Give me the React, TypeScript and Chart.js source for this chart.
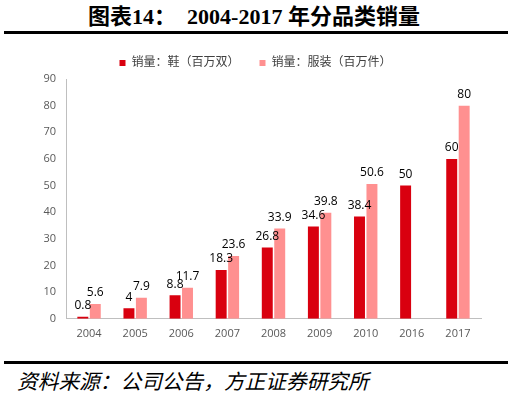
import React, { useEffect, useRef } from "react";
import { Chart, registerables } from "chart.js";

Chart.register(...registerables);

const categories = ["2004", "2005", "2006", "2007", "2008", "2009", "2010", "2016", "2017"];
const shoes = [0.8, 4, 8.8, 18.3, 26.8, 34.6, 38.4, 50, 60];
const clothes: (number | null)[] = [5.6, 7.9, 11.7, 23.6, 33.9, 39.8, 50.6, null, 80];
const seriesNames = ["销量：鞋（百万双）", "销量：服装（百万件）"];
const yTicks = [0, 10, 20, 30, 40, 50, 60, 70, 80, 90];

const FONT = "'Open Sans', 'Noto Sans CJK SC', sans-serif";

const labelPlugin = {
  id: "barLabels",
  afterDatasetsDraw(chart: any) {
    const ctx = chart.ctx;
    ctx.save();
    ctx.font = `12px ${FONT}`;
    ctx.fillStyle = "#000000";
    ctx.textAlign = "center";
    ctx.textBaseline = "bottom";
    chart.data.datasets.forEach((ds: any, i: number) => {
      const meta = chart.getDatasetMeta(i);
      meta.data.forEach((el: any, j: number) => {
        const v = ds.data[j];
        if (v === null || v === undefined) return;
        ctx.fillText(String(v), el.x, el.y - 5);
      });
    });
    ctx.restore();
  },
};

function BarChart() {
  const ref = useRef<HTMLCanvasElement>(null);
  useEffect(() => {
    if (!ref.current) return;
    const chart = new Chart(ref.current, {
      type: "bar",
      data: {
        labels: categories,
        datasets: [
          {
            label: seriesNames[0],
            data: shoes,
            backgroundColor: "#D9000F",
            categoryPercentage: 0.54,
            barPercentage: 0.88,
          },
          {
            label: seriesNames[1],
            data: clothes,
            backgroundColor: "#FF9090",
            categoryPercentage: 0.54,
            barPercentage: 0.88,
          },
        ],
      },
      options: {
        animation: false,
        responsive: false,
        maintainAspectRatio: false,
        layout: { padding: { left: 30, right: 27, top: 9, bottom: 0 } },
        plugins: {
          legend: {
            position: "top",
            labels: {
              boxWidth: 6,
              boxHeight: 6,
              color: "#404040",
              font: { size: 12, family: FONT },
              padding: 20,
            },
          },
          tooltip: { enabled: false },
        },
        scales: {
          x: {
            grid: { display: false, drawTicks: false },
            border: { color: "#BFBFBF", width: 1 },
            ticks: { color: "#595959", font: { size: 11, family: FONT }, padding: 8 },
          },
          y: {
            min: 0,
            max: 90,
            afterFit: (s: any) => { s.width = 36; },
            afterBuildTicks: (s: any) => { s.ticks = yTicks.map((v) => ({ value: v })); },
            grid: { display: false, drawTicks: false },
            border: { color: "#BFBFBF", width: 1 },
            ticks: { color: "#595959", font: { size: 11, family: FONT }, padding: 10 },
          },
        },
      },
      plugins: [labelPlugin],
    });
    return () => chart.destroy();
  }, []);
  return <canvas ref={ref} width={508} height={320} style={{ display: "block" }} />;
}

export default function App() {
  return (
    <div style={{ position: "fixed", left: 0, top: 0, width: 508, height: 398, background: "#fff", overflow: "hidden" }}>
      <div
        style={{
          position: "absolute",
          left: 0,
          top: 3,
          width: 508,
          textAlign: "center",
          fontFamily: "'Liberation Serif', 'Noto Sans CJK SC', serif",
          fontWeight: "bold",
          fontSize: 22,
          lineHeight: "28px",
          color: "#000",
          whiteSpace: "pre",
        }}
      >
        {"图表14：  2004-2017 年分品类销量"}
      </div>
      <div style={{ position: "absolute", left: 4, top: 31, width: 504, height: 3, background: "#000" }} />
      <div style={{ position: "absolute", left: 0, top: 28 }}>
        <BarChart />
      </div>
      <div style={{ position: "absolute", left: 4, top: 361, width: 504, height: 3, background: "#000" }} />
      <div
        style={{
          position: "absolute",
          left: 17,
          top: 366,
          fontFamily: "'Noto Sans CJK SC', sans-serif",
          fontStyle: "italic",
          fontSize: 20.7,
          lineHeight: "28px",
          color: "#000",
          whiteSpace: "pre",
        }}
      >
        {"资料来源：公司公告，方正证券研究所"}
      </div>
    </div>
  );
}
